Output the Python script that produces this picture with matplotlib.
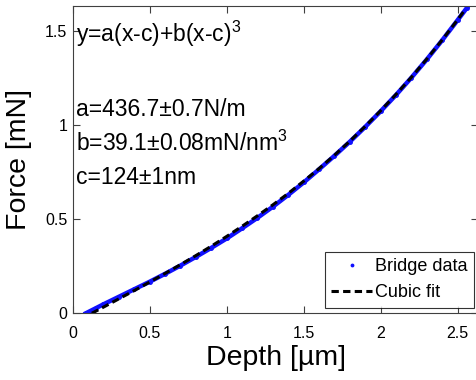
import matplotlib
matplotlib.use("Agg")
import matplotlib.pyplot as plt
from matplotlib.lines import Line2D

plt.rcParams["font.family"] = ["Liberation Sans", "DejaVu Sans"]
plt.rcParams["mathtext.fontset"] = "custom"
plt.rcParams["mathtext.rm"] = "Liberation Sans"
plt.rcParams["mathtext.it"] = "Liberation Sans"

# Donnees (profondeur en um, force en mN)
depth_data = [0.085, 0.15, 0.2, 0.3, 0.4, 0.5, 0.6, 0.7, 0.8, 0.9, 1.0, 1.1, 1.2,
              1.3, 1.4, 1.5, 1.6, 1.7, 1.8, 1.9, 2.0, 2.1, 2.2, 2.3, 2.4, 2.5, 2.56]
force_data = [0.0, 0.027, 0.048, 0.088, 0.128, 0.168, 0.210, 0.254, 0.300, 0.348,
              0.398, 0.452, 0.508, 0.567, 0.630, 0.696, 0.766, 0.838, 0.913, 0.992,
              1.075, 1.162, 1.254, 1.351, 1.453, 1.560, 1.625]

depth_fit = [0.124, 0.2, 0.3, 0.4, 0.5, 0.6, 0.7, 0.8, 0.9, 1.0, 1.1, 1.2, 1.3,
             1.4, 1.5, 1.6, 1.7, 1.8, 1.9, 2.0, 2.1, 2.2, 2.3, 2.4, 2.5, 2.55]
force_fit = [0.0, 0.033, 0.077, 0.121, 0.166, 0.212, 0.259, 0.307, 0.357, 0.409,
             0.463, 0.519, 0.577, 0.638, 0.703, 0.770, 0.841, 0.916, 0.995, 1.078,
             1.165, 1.256, 1.353, 1.455, 1.562, 1.618]

x_ticks = [0, 0.5, 1, 1.5, 2, 2.5]
x_ticklabels = ["0", "0.5", "1", "1.5", "2", "2.5"]
y_ticks = [0, 0.5, 1, 1.5]
y_ticklabels = ["0", "0.5", "1", "1.5"]

W, H = 477, 380
fig = plt.figure(figsize=(W / 100, H / 100), dpi=100)
ax = fig.add_axes([72.7 / W, (H - 313.3) / H, (478.5 - 72.7) / W, (313.3 - 6) / H])

ax.plot(depth_data, force_data, color="#1010ff", lw=3.2, marker=".", ms=5, zorder=2)
ax.plot(depth_fit, force_fit, color="black", lw=2.2, dashes=(2.4, 1.4), zorder=3)

ax.set_xlim(0, (478.5 - 72.7) / 154)
ax.set_ylim(0, (313.3 - 6) / 188)
ax.set_xticks(x_ticks)
ax.set_xticklabels(x_ticklabels)
ax.set_yticks(y_ticks)
ax.set_yticklabels(y_ticklabels)
ax.tick_params(direction="in", top=True, right=True, length=5, width=0.8,
               color="#404040", labelsize=11.5)
ax.tick_params(axis="x", pad=9)
ax.tick_params(axis="y", pad=4)
for s in ax.spines.values():
    s.set_color("#404040")
    s.set_linewidth(0.8)

ax.set_xlabel("Depth [\u00b5m]", fontsize=20.5, labelpad=3)
ax.set_ylabel("Force [mN]", fontsize=20.5, labelpad=9)

# Texte de l'ajustement
ax.text(0.02, 1.443, "y=a(x-c)+b(x-c)$^3$", fontsize=16.5, va="baseline")
ax.text(0.02, 1.05, "a=436.7\u00b10.7N/m", fontsize=16.5, va="baseline")
ax.text(0.02, 0.863, "b=39.1\u00b10.08mN/nm$^3$", fontsize=16.5, va="baseline")
ax.text(0.02, 0.687, "c=124\u00b11nm", fontsize=16.5, va="baseline")

handles = [Line2D([], [], color="#1010ff", marker=".", ms=3.5, ls="none"),
           Line2D([], [], color="black", lw=2.2, dashes=(2.4, 1.4))]
leg = ax.legend(handles, ["Bridge data", "Cubic fit"], loc="lower right",
                bbox_to_anchor=(474 / W, (H - 307.7) / H), bbox_transform=fig.transFigure,
                borderaxespad=0, fontsize=13, frameon=True, fancybox=False,
                handlelength=2.3, handletextpad=0.15, labelspacing=0.5,
                borderpad=0.35)
leg.get_frame().set_edgecolor("black")
leg.get_frame().set_linewidth(0.8)

fig.savefig("out.png", dpi=100)
